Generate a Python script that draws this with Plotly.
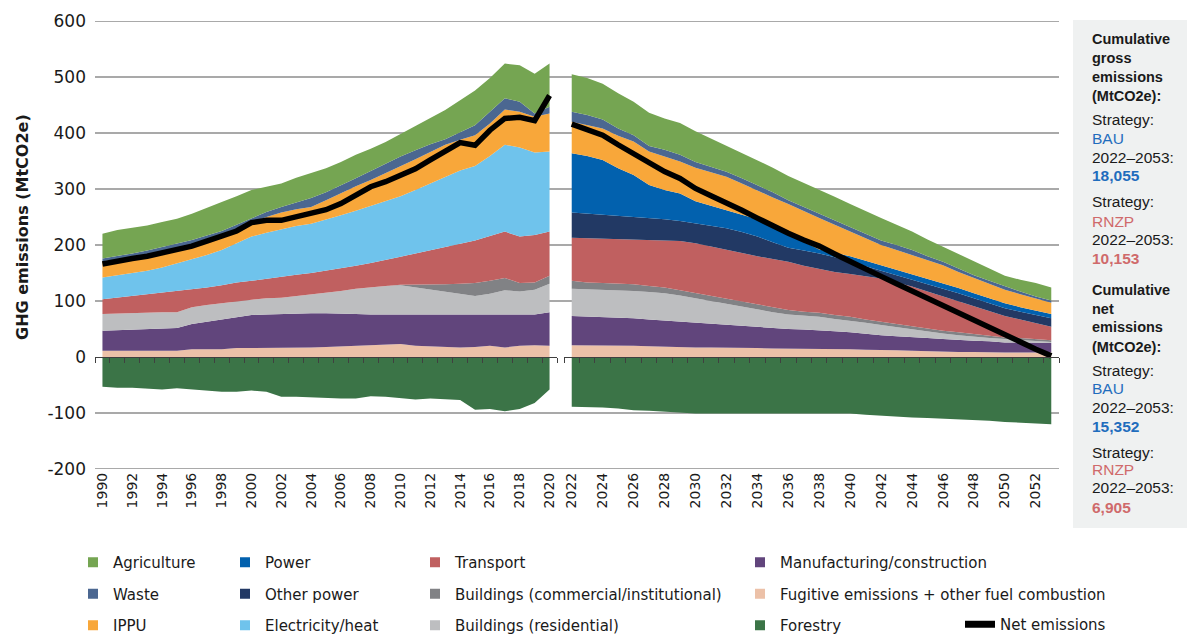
import plotly.graph_objects as go

# ---------------- DATA (MtCO2e) ----------------
years_hist = list(range(1990, 2021))
years_proj = list(range(2022, 2054))

fugitive_hist = [11, 11, 11, 11, 11, 11, 14, 14, 14, 16, 16, 16, 17, 17, 17, 18, 19, 20, 21, 22, 23, 20, 19, 18, 17, 18, 20, 17, 20, 21, 20]
manufacturing_hist = [36, 37, 38, 38, 39, 41, 45, 49, 52, 55, 59, 60, 60, 60, 61, 60, 59, 57, 55, 54, 53, 56, 57, 58, 59, 58, 57, 59, 57, 55, 60]
buildings_res_hist = [30, 30, 29, 30, 30, 28, 30, 30, 30, 29, 28, 29, 29, 32, 33, 37, 40, 45, 49, 51, 52, 48, 44, 40, 36, 33, 36, 43, 40, 44, 51]
buildings_com_hist = [0] * 20 + [1, 5, 9, 14, 19, 23, 23, 22, 15, 13, 14]
transport_hist = [26, 28, 30, 32, 34, 37, 32, 31, 32, 33, 33, 35, 38, 38, 39, 39, 41, 41, 43, 46, 50, 56, 62, 67, 71, 76, 80, 83, 83, 85, 79]
electricity_hist = [39, 40, 42, 43, 46, 50, 53, 58, 63, 70, 79, 82, 84, 87, 88, 91, 94, 98, 102, 105, 108, 113, 119, 125, 131, 133, 143, 155, 159, 147, 143]
ippu_hist = [29, 28, 27, 27, 27, 27, 26, 25, 23, 23, 25, 28, 30, 30, 30, 35, 40, 44, 46, 50, 53, 55, 56, 57, 55, 55, 58, 63, 64, 64, 68]
waste_hist = [5, 6, 8, 9, 9, 9, 9, 10, 11, 10, 8, 9, 10, 12, 16, 14, 13, 14, 16, 17, 18, 16, 14, 10, 13, 18, 21, 20, 18, 6, 12]
agriculture_hist = [44, 47, 46, 45, 45, 44, 47, 50, 52, 51, 50, 45, 42, 44, 45, 43, 42, 42, 40, 39, 40, 44, 47, 52, 58, 62, 60, 62, 65, 71, 77]
forestry_hist = [-53, -55, -55, -56, -58, -56, -58, -60, -62, -62, -60, -62, -71, -71, -72, -74, -74, -74, -70, -71, -73, -76, -74, -76, -77, -94, -93, -97, -93, -82, -58]
net_hist = [166, 172, 176, 180, 186, 191, 198, 207, 215, 225, 240, 244, 244, 250, 257, 263, 274, 288, 304, 313, 325, 336, 352, 368, 383, 378, 405, 426, 428, 422, 467]

fugitive_proj = [21, 21, 20, 20, 20, 19, 18, 18, 17, 17, 17, 16, 16, 15, 15, 15, 15, 14, 14, 13, 13, 12, 11, 10, 9, 9, 9, 8, 8, 8, 8, 8]
manufacturing_proj = [52, 51, 52, 50, 49, 48, 47, 46, 45, 43, 40, 40, 38, 37, 35, 34, 33, 32, 30, 28, 26, 25, 25, 24, 23, 21, 20, 20, 18, 18, 17, 17]
buildings_res_proj = [49, 49, 49, 49, 49, 49, 49, 46, 43, 39, 37, 33, 30, 28, 26, 25, 24, 22, 21, 20, 18, 16, 13, 11, 10, 9, 7, 6, 6, 4, 3, 2]
buildings_com_proj = [14, 12, 11, 12, 12, 11, 10, 9, 9, 9, 9, 9, 9, 8, 8, 7, 7, 7, 7, 6, 6, 5, 5, 5, 5, 5, 5, 4, 3, 4, 4, 3]
transport_proj = [77, 79, 79, 80, 80, 82, 84, 88, 89, 89, 89, 88, 87, 87, 86, 82, 78, 77, 76, 77, 77, 75, 72, 67, 61, 55, 49, 43, 38, 33, 29, 24]
other_power_proj = [45, 44, 43, 41, 41, 40, 38, 36, 36, 38, 38, 37, 35, 30, 25, 27, 28, 26, 22, 19, 15, 14, 13, 14, 15, 15, 15, 15, 14, 14, 14, 15]
power_proj = [106, 103, 98, 85, 74, 58, 52, 49, 39, 35, 32, 31, 31, 29, 26, 16, 7, 8, 10, 9, 9, 9, 9, 9, 9, 9, 9, 9, 9, 8, 8, 8]
ippu_proj = [56, 55, 56, 58, 60, 60, 60, 57, 60, 60, 60, 56, 51, 51, 52, 54, 56, 50, 44, 40, 36, 35, 34, 33, 32, 29, 27, 25, 24, 23, 21, 20]
waste_proj = [18, 18, 16, 13, 11, 10, 12, 12, 10, 10, 9, 9, 10, 9, 7, 8, 9, 8, 8, 8, 8, 9, 9, 7, 6, 6, 5, 6, 6, 5, 4, 4]
agriculture_proj = [67, 66, 64, 63, 60, 59, 56, 57, 55, 50, 46, 45, 45, 44, 43, 43, 42, 42, 41, 40, 40, 36, 33, 30, 27, 25, 24, 21, 19, 21, 24, 23]
forestry_proj = [-89, -89, -90, -92, -95, -96, -98, -99, -101, -101, -101, -101, -101, -101, -101, -101, -101, -101, -101, -103, -105, -106, -108, -109, -110, -111, -113, -114, -116, -117, -119, -120]
net_proj = [416, 407, 396, 379, 363, 346, 331, 319, 301, 288, 276, 262, 248, 234, 221, 209, 198, 184, 170, 157, 144, 131, 118, 103, 90, 78, 65, 52, 38, 25, 14, 2]

y_ticks = [-200, -100, 0, 100, 200, 300, 400, 500, 600]

sidebar_lines = [
    ("Cumulative", "b"), ("gross", "b"), ("emissions", "b"), ("(MtCO2e):", "b"),
    ("Strategy:", "r"), ("BAU", "blue"), ("2022\u20132053:", "r"), ("18,055", "blueb"),
    ("Strategy:", "r"), ("RNZP", "red"), ("2022\u20132053:", "r"), ("10,153", "redb"),
    ("Cumulative", "b"), ("net", "b"), ("emissions", "b"), ("(MtCO2e):", "b"),
    ("Strategy:", "r"), ("BAU", "blue"), ("2022\u20132053:", "r"), ("15,352", "blueb"),
    ("Strategy:", "r"), ("RNZP", "red"), ("2022\u20132053:", "r"), ("6,905", "redb"),
]
sidebar_y_px = [39, 58, 77, 96, 119, 138, 157, 175, 202, 221, 239, 258,
                290, 309, 327, 347, 370, 388, 407, 426, 452, 469, 488, 507]

# ---------------- STYLE ----------------
COL = {
    "Agriculture": "#75a552",
    "Waste": "#4b6791",
    "IPPU": "#f8a73a",
    "Power": "#0261ae",
    "Other power": "#223964",
    "Electricity/heat": "#6fc3ec",
    "Transport": "#c06060",
    "Buildings (commercial/institutional)": "#818285",
    "Buildings (residential)": "#bdbec0",
    "Manufacturing/construction": "#61457c",
    "Fugitive emissions + other fuel combustion": "#ecc1a8",
    "Forestry": "#3b7447",
}
FONT = "DejaVu Sans, Verdana, sans-serif"
SIDE_FONT = "Liberation Sans, Arial, sans-serif"
TXT = "#1a1a1a"

W, H = 1187, 638
PL, PR, PT, PB = 95, 1059, 21, 469  # plot area in pixels


def px_x(p):
    return (p - PL) / (PR - PL)


def px_y(p):
    return (PB - p) / (PB - PT)


fig = go.Figure()

hist_stack = [
    ("Fugitive emissions + other fuel combustion", fugitive_hist),
    ("Manufacturing/construction", manufacturing_hist),
    ("Buildings (residential)", buildings_res_hist),
    ("Buildings (commercial/institutional)", buildings_com_hist),
    ("Transport", transport_hist),
    ("Electricity/heat", electricity_hist),
    ("IPPU", ippu_hist),
    ("Waste", waste_hist),
    ("Agriculture", agriculture_hist),
]
proj_stack = [
    ("Fugitive emissions + other fuel combustion", fugitive_proj),
    ("Manufacturing/construction", manufacturing_proj),
    ("Buildings (residential)", buildings_res_proj),
    ("Buildings (commercial/institutional)", buildings_com_proj),
    ("Transport", transport_proj),
    ("Other power", other_power_proj),
    ("Power", power_proj),
    ("IPPU", ippu_proj),
    ("Waste", waste_proj),
    ("Agriculture", agriculture_proj),
]

for name, vals in hist_stack:
    fig.add_trace(go.Scatter(x=years_hist, y=vals, name=name, stackgroup="hist",
                             mode="lines", line=dict(width=0), fillcolor=COL[name],
                             showlegend=False, xaxis="x", yaxis="y", hoverinfo="skip"))
fig.add_trace(go.Scatter(x=years_hist, y=forestry_hist, name="Forestry", fill="tozeroy",
                         mode="lines", line=dict(width=0, color=COL["Forestry"]),
                         fillcolor=COL["Forestry"], showlegend=False, xaxis="x", yaxis="y",
                         hoverinfo="skip"))

for name, vals in proj_stack:
    fig.add_trace(go.Scatter(x=years_proj, y=vals, name=name, stackgroup="proj",
                             mode="lines", line=dict(width=0), fillcolor=COL[name],
                             showlegend=False, xaxis="x2", yaxis="y", hoverinfo="skip"))
fig.add_trace(go.Scatter(x=years_proj, y=forestry_proj, name="Forestry", fill="tozeroy",
                         mode="lines", line=dict(width=0, color=COL["Forestry"]),
                         fillcolor=COL["Forestry"], showlegend=False, xaxis="x2", yaxis="y",
                         hoverinfo="skip"))

# net emission lines
fig.add_trace(go.Scatter(x=years_hist, y=net_hist, mode="lines", line=dict(color="black", width=5.5),
                         showlegend=False, xaxis="x", yaxis="y", hoverinfo="skip"))
fig.add_trace(go.Scatter(x=years_proj, y=net_proj, mode="lines", line=dict(color="black", width=5.5),
                         showlegend=False, xaxis="x2", yaxis="y", hoverinfo="skip"))

# invisible helpers so the zero-line tick axes get drawn
fig.add_trace(go.Scatter(x=[years_hist[0]], y=[0], mode="markers", marker=dict(opacity=0),
                         showlegend=False, xaxis="x3", yaxis="y", hoverinfo="skip"))
fig.add_trace(go.Scatter(x=[years_proj[0]], y=[0], mode="markers", marker=dict(opacity=0),
                         showlegend=False, xaxis="x4", yaxis="y", hoverinfo="skip"))

# legend entries (square markers), one legend per column
legend_cols = [
    ["Agriculture", "Waste", "IPPU"],
    ["Power", "Other power", "Electricity/heat"],
    ["Transport", "Buildings (commercial/institutional)", "Buildings (residential)"],
    ["Manufacturing/construction", "Fugitive emissions + other fuel combustion", "Forestry"],
]
legend_ids = ["legend", "legend2", "legend3", "legend4"]
for lid, names in zip(legend_ids, legend_cols):
    for n in names:
        fig.add_trace(go.Scatter(x=[None], y=[None], mode="markers", name=n,
                                 marker=dict(symbol="square", size=10, color=COL[n]),
                                 legend=lid, legendgroup=n, showlegend=True,
                                 xaxis="x", yaxis="y"))
fig.add_trace(go.Scatter(x=[None], y=[None], mode="lines", name="Net emissions",
                         line=dict(color="black", width=7), legend="legend5",
                         legendgroup="net", showlegend=True, xaxis="x", yaxis="y"))

# ---------------- LAYOUT ----------------
x_dom1 = [0, px_x(557)]
x_dom2 = [px_x(564), 1]
zero_pos = (0 - y_ticks[0]) / (y_ticks[-1] - y_ticks[0])

hist_rng = [years_hist[0] - 0.5, years_hist[-1] + 0.5]
proj_rng = [years_proj[0] - 0.5, years_proj[-1] + 0.5]
hist_bounds = [y - 0.5 for y in years_hist] + [years_hist[-1] + 0.5]
proj_bounds = [y - 0.5 for y in years_proj] + [years_proj[-1] + 0.5]

tickfont = dict(family=FONT, size=14, color=TXT)
base_x = dict(showgrid=False, zeroline=False, showline=False, ticks="",
              tickangle=-90, tickfont=tickfont, anchor="y", fixedrange=True)

tick_axis = dict(anchor="free", position=zero_pos, showticklabels=False, ticks="outside",
                 ticklen=5, tickwidth=1.2, tickcolor="#404040", showline=True,
                 linecolor="#404040", linewidth=1.3, showgrid=False, zeroline=False,
                 tickmode="array")

legend_common = dict(orientation="v", xanchor="left", yanchor="top", traceorder="grouped",
                     tracegroupgap=9, bgcolor="rgba(0,0,0,0)", itemwidth=30,
                     font=dict(family=FONT, size=15, color=TXT), itemclick=False,
                     itemdoubleclick=False)

legend_text_x = [113, 265, 455, 780]
legend_top_px = 546
layout_legends = {}
for lid, tx in zip(legend_ids, legend_text_x):
    layout_legends[lid] = dict(legend_common, x=px_x(tx - 40), y=px_y(legend_top_px))
layout_legends["legend5"] = dict(legend_common, x=px_x(1000 - 40), y=px_y(legend_top_px + 62))

shapes = []
for v in y_ticks:
    if v == 0:
        continue
    shapes.append(dict(type="line", xref="paper", yref="y", x0=0, x1=1, y0=v, y1=v,
                       line=dict(color="#8c8c8c", width=1.3), layer="below"))
# sidebar box
shapes.append(dict(type="rect", xref="paper", yref="paper", x0=px_x(1073), x1=px_x(1187),
                   y0=px_y(528), y1=px_y(20), fillcolor="#eff1f1", line=dict(width=0),
                   layer="below"))

annotations = [dict(text="<b>GHG emissions (MtCO2e)</b>", xref="paper", yref="paper",
                    x=px_x(22), y=px_y(227), textangle=-90, showarrow=False,
                    font=dict(family=FONT, size=16, color=TXT), xanchor="center",
                    yanchor="middle")]
styles = {
    "b": dict(size=14.5, color=TXT, bold=True),
    "r": dict(size=15.5, color=TXT, bold=False),
    "blue": dict(size=15.5, color="#1f6dbd", bold=False),
    "red": dict(size=15.5, color="#cf6a6b", bold=False),
    "blueb": dict(size=15.5, color="#1f6dbd", bold=True),
    "redb": dict(size=15.5, color="#cf6a6b", bold=True),
}
for (txt, st), ypx in zip(sidebar_lines, sidebar_y_px):
    s = styles[st]
    t = f"<b>{txt}</b>" if s["bold"] else txt
    annotations.append(dict(text=t, xref="paper", yref="paper", x=px_x(1090), y=px_y(ypx),
                            xanchor="left", yanchor="middle", showarrow=False,
                            font=dict(family=SIDE_FONT, size=s["size"], color=s["color"])))

fig.update_layout(
    width=W, height=H,
    margin=dict(l=PL, r=W - PR, t=PT, b=H - PB, autoexpand=False),
    paper_bgcolor="white", plot_bgcolor="white",
    font=dict(family=FONT, color=TXT),
    xaxis=dict(base_x, domain=x_dom1, range=hist_rng, tickmode="array",
               tickvals=years_hist[::2], ticktext=[str(y) for y in years_hist[::2]]),
    xaxis2=dict(base_x, domain=x_dom2, range=proj_rng, tickmode="array",
                tickvals=years_proj[::2], ticktext=[str(y) for y in years_proj[::2]]),
    xaxis3=dict(tick_axis, overlaying="x", range=hist_rng, tickvals=hist_bounds),
    xaxis4=dict(tick_axis, overlaying="x2", range=proj_rng, tickvals=proj_bounds),
    yaxis=dict(range=[y_ticks[0], y_ticks[-1]], tickmode="array", tickvals=y_ticks,
               ticktext=[str(v) for v in y_ticks],
               showgrid=False, zeroline=False, showline=False, ticks="",
               ticklabelstandoff=8, tickfont=dict(family=FONT, size=17, color=TXT),
               fixedrange=True, domain=[0, 1]),
    shapes=shapes,
    annotations=annotations,
    hovermode=False,
    **layout_legends,
)

fig.write_html("out.html", config={"displayModeBar": False},
               post_script="document.body.style.margin='0px';")
